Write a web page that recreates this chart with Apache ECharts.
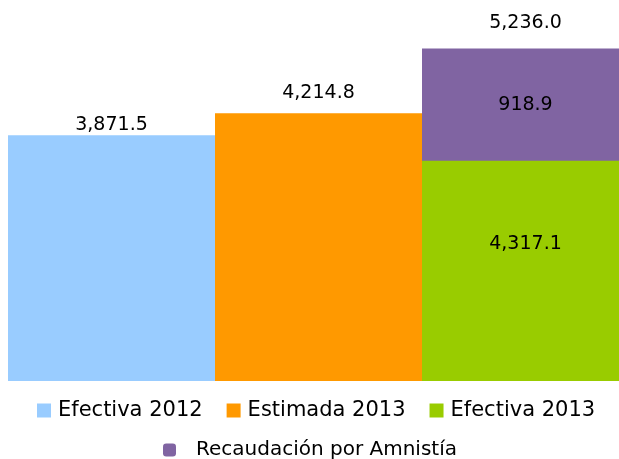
<!DOCTYPE html>
<html>
<head>
<meta charset="utf-8">
<script src="https://cdn.jsdelivr.net/npm/echarts@6/dist/echarts.min.js"></script>
<style>html,body{margin:0;padding:0;background:#fff;overflow:hidden;width:619px;height:459px}#c{width:629px;height:459px}</style>
</head>
<body>
<div id="c"></div>
<script>
// ---- data ----
const categories = ['Efectiva 2012', 'Estimada 2013', 'Efectiva 2013'];
const efectiva2012 = [3871.5, '-', '-'];
const estimada2013 = ['-', 4214.8, '-'];
const efectiva2013 = ['-', '-', 4317.1];
const amnistia = ['-', '-', 918.9];
const totals = ['-', '-', 5236.0];
// lower edge of the purple block as drawn in the picture (axis units)
const amnistiaBlockBase = ['-', '-', 3470];

const fmt = v => Number(v).toLocaleString('en-US', {minimumFractionDigits: 1, maximumFractionDigits: 1});
const FONT = 'DejaVu Sans';

const chart = echarts.init(document.getElementById('c'), null, {renderer: 'canvas'});
const purpleBlock = amnistiaBlockBase.map((b, i) => b === '-' ? '-' : totals[i] - b);
const zeroTop = totals.map(t => t === '-' ? '-' : 0);

chart.setOption({
  animation: false,
  backgroundColor: '#ffffff',
  textStyle: {fontFamily: FONT},
  grid: {left: 8, top: 47, right: 0, bottom: 78, containLabel: false},
  xAxis: {type: 'category', data: categories, show: false},
  yAxis: {type: 'value', min: 0, max: 5260, show: false},
  legend: [
    {
      data: ['Efectiva 2012', 'Estimada 2013', 'Efectiva 2013'],
      left: 37, top: 400, padding: 0, itemWidth: 14, itemHeight: 14, itemGap: 24, icon: 'rect',
      textStyle: {fontFamily: FONT, fontSize: 21, color: '#000', padding: [0, 0, 0, 2]}
    },
    {
      data: ['Recaudación por Amnistía'],
      left: 163, top: 440, padding: 0, itemWidth: 13, itemHeight: 13, icon: 'roundRect',
      textStyle: {fontFamily: FONT, fontSize: 20, color: '#000', padding: [0, 0, 0, 15]}
    }
  ],
  series: [
    {
      name: 'Efectiva 2013', type: 'bar', stack: 'g', data: efectiva2013,
      barCategoryGap: '0%', barGap: '-100%',
      itemStyle: {color: '#99CC00'},
      label: {show: true, position: 'inside', fontSize: 19, color: '#000', fontFamily: FONT,
              formatter: p => fmt(p.value)}
    },
    {
      name: 'Efectiva 2012', type: 'bar', stack: 'a', data: efectiva2012,
      barCategoryGap: '0%', barGap: '-100%',
      itemStyle: {color: '#99CCFF'},
      label: {show: true, position: 'top', distance: 1, fontSize: 19, color: '#000', fontFamily: FONT,
              formatter: p => fmt(p.value)}
    },
    {
      name: 'Estimada 2013', type: 'bar', stack: 'a', data: estimada2013,
      barCategoryGap: '0%', barGap: '-100%',
      itemStyle: {color: '#FF9900'},
      label: {show: true, position: 'top', distance: 11, fontSize: 19, color: '#000', fontFamily: FONT,
              formatter: p => fmt(p.value)}
    },
    {
      name: 'base', type: 'bar', stack: 'a', data: amnistiaBlockBase,
      barCategoryGap: '0%', barGap: '-100%',
      itemStyle: {color: 'rgba(0,0,0,0)'}, silent: true
    },
    {
      name: 'Recaudación por Amnistía', type: 'bar', stack: 'a', data: purpleBlock,
      barCategoryGap: '0%', barGap: '-100%',
      itemStyle: {color: '#8064A2'},
      label: {show: true, position: 'inside', fontSize: 19, color: '#000', fontFamily: FONT,
              formatter: p => fmt(amnistia[p.dataIndex])}
    },
    {
      name: 'total', type: 'bar', stack: 'a', data: zeroTop,
      barCategoryGap: '0%', barGap: '-100%',
      itemStyle: {color: 'rgba(0,0,0,0)'},
      label: {show: true, position: 'top', distance: 16, fontSize: 19, color: '#000', fontFamily: FONT,
              formatter: p => fmt(totals[p.dataIndex])}
    }
  ]
});
</script>
</body>
</html>
